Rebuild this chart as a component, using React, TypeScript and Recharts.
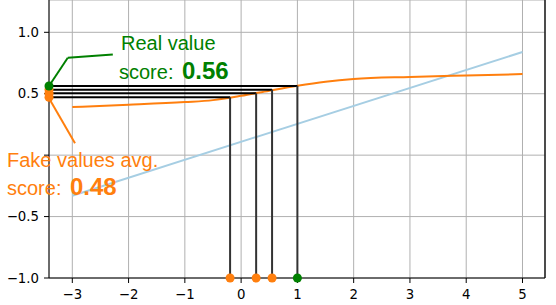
import {
  ComposedChart,
  Line,
  Scatter,
  XAxis,
  YAxis,
  CartesianGrid,
  ReferenceLine,
} from 'recharts';

const curveX = [-3, -2, -1, -0.5, 0, 0.5, 1, 1.5, 2, 3, 4, 5];
const curveY = [0.392, 0.41, 0.432, 0.448, 0.483, 0.525, 0.565, 0.598, 0.62, 0.637, 0.649, 0.66];

const blueX = [-3, 5];
const blueY = [-0.33, 0.84];

const fakeX = [-0.196, 0.267, 0.55];
const fakeScores = [0.471, 0.503, 0.533];
const realX = 1.0;
const realScore = 0.563;

const xTicks = [-3, -2, -1, 0, 1, 2, 3, 4, 5];
const yTicks = [-1, -0.5, 0, 0.5, 1];

const X_MIN = -3.414;
const X_MAX = 5.4;
const Y_MIN = -1;
const Y_MAX = 1.263;

const ORANGE = '#ff7f0e';
const GREEN = '#008000';

const curveData = curveX.map((x, i) => ({ x, y: curveY[i] }));
const blueData = blueX.map((x, i) => ({ x, y: blueY[i] }));
const bottomFake = fakeX.map((x) => ({ x, y: Y_MIN }));
const bottomReal = [{ x: realX, y: Y_MIN }];
const leftFake = fakeScores.map((y) => ({ x: X_MIN, y }));
const leftReal = [{ x: X_MIN, y: realScore }];

// the 0.0 label is hidden behind the annotation in the original
const fmtY = (v: number) => (v === 0 ? '' : v.toFixed(1).replace('-', '\u2212'));
const fmtX = (v: number) => String(v).replace('-', '\u2212');

const dot = (color: string) => (props: any) => (
  <circle cx={props.cx} cy={props.cy} r={4.5} fill={color} />
);

const tickStyle = { fontFamily: 'DejaVu Sans', fontSize: 13.3, fill: '#000' };

export default function App() {
  const allX = [...fakeX, realX];
  const allS = [...fakeScores, realScore];
  return (
    <div style={{ position: 'absolute', left: 0, top: 0, width: 556, height: 305, background: '#fff' }}>
      <ComposedChart
        width={556}
        height={305}
        margin={{ top: 0, right: 11, bottom: 0, left: 0 }}
      >
        <CartesianGrid stroke="#b0b0b0" strokeWidth={1} />
        <XAxis
          dataKey="x"
          type="number"
          domain={[X_MIN, X_MAX]}
          ticks={xTicks}
          tickFormatter={fmtX}
          height={27}
          tickSize={5}
          tickMargin={7}
          stroke="#000"
          tick={tickStyle}
        />
        <YAxis
          type="number"
          domain={[Y_MIN, Y_MAX]}
          ticks={yTicks}
          tickFormatter={fmtY}
          width={49}
          tickSize={5}
          tickMargin={5}
          stroke="#000"
          tick={tickStyle}
        />
        <ReferenceLine x={X_MAX} stroke="#000" strokeWidth={1.3} />
        <Line
          data={blueData}
          dataKey="y"
          stroke="#a6cee3"
          strokeWidth={2}
          dot={false}
          isAnimationActive={false}
        />
        <Line
          data={curveData}
          dataKey="y"
          type="monotone"
          stroke={ORANGE}
          strokeWidth={2}
          dot={false}
          isAnimationActive={false}
        />
        {allX.map((x, i) => (
          <ReferenceLine
            key={'h' + i}
            segment={[{ x: X_MIN, y: allS[i] }, { x, y: allS[i] }]}
            stroke="#000"
            strokeWidth={2}
          />
        ))}
        {allX.map((x, i) => (
          <ReferenceLine
            key={'v' + i}
            segment={[{ x, y: Y_MIN }, { x, y: allS[i] }]}
            stroke="#333"
            strokeWidth={2}
          />
        ))}
        <ReferenceLine segment={[{ x: -2.28, y: 0.82 }, { x: -3.08, y: 0.793 }]} stroke={GREEN} strokeWidth={2} />
        <ReferenceLine segment={[{ x: -3.08, y: 0.793 }, { x: X_MIN, y: realScore }]} stroke={GREEN} strokeWidth={2} />
        <ReferenceLine segment={[{ x: -3.396, y: 0.449 }, { x: -2.952, y: 0.096 }]} stroke={ORANGE} strokeWidth={2} />
        <Scatter data={bottomFake} dataKey="y" shape={dot(ORANGE)} isAnimationActive={false} />
        <Scatter data={bottomReal} dataKey="y" shape={dot(GREEN)} isAnimationActive={false} />
        <Scatter data={leftFake} dataKey="y" shape={dot(ORANGE)} isAnimationActive={false} />
        <Scatter data={leftReal} dataKey="y" shape={dot(GREEN)} isAnimationActive={false} />
      </ComposedChart>
      <svg
        width={556}
        height={305}
        style={{ position: 'absolute', left: 0, top: 0, pointerEvents: 'none' }}
      >
        <g fontFamily="Liberation Sans, Arial, sans-serif" fontSize={20}>
          <text x={121} y={50} fill={GREEN}>Real value</text>
          <text x={119} y={79} fill={GREEN}>
            score:
            <tspan x={182} fontWeight="bold" fontSize={24}>0.56</tspan>
          </text>
          <text x={7} y={167} fill={ORANGE}>Fake values avg.</text>
          <text x={7} y={195} fill={ORANGE}>
            score:
            <tspan x={70} fontWeight="bold" fontSize={24}>0.48</tspan>
          </text>
        </g>
      </svg>
    </div>
  );
}
